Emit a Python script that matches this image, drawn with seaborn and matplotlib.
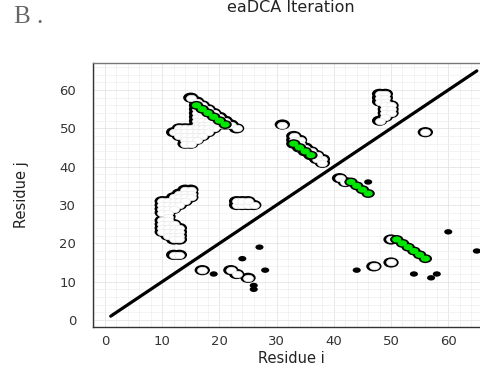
import matplotlib
matplotlib.use("Agg")
import matplotlib.pyplot as plt
import seaborn as sns
from matplotlib.path import Path
from matplotlib.markers import MarkerStyle
from matplotlib.transforms import Affine2D
from matplotlib.ticker import MultipleLocator

# ---------------- data ----------------
title = "eaDCA Iteration"
panel_label = "B ."
x_label = "Residue i"
y_label = "Residue j"
tick_values = [0, 10, 20, 30, 40, 50, 60]

# contact map (white, outlined markers)
contact_i = [
    15, 16, 17, 18, 19, 20, 21, 22, 23,
    16, 17, 18, 19, 20, 21,
    16, 16, 16, 17, 16, 19, 20, 19, 17, 17, 18, 16, 17, 18,
    13, 14, 15, 16, 17, 18,
    12, 13, 14, 15, 16, 17, 18,
    13, 14, 15, 16, 17,
    14, 15, 16,
    14, 15,
    14, 15,
    13, 14, 15,
    12, 13, 14, 15,
    10, 11, 12, 13, 14,
    10, 11, 12, 13,
    10, 11, 12,
    10, 11,
    11,
    10, 11,
    10, 11, 12,
    10, 11, 12, 13,
    10, 11, 12, 13,
    11, 12, 13,
    12, 13,
    12, 13,
    23, 23, 24, 24, 25, 25, 26,
    31,
    33, 34,
    33, 34, 35, 36, 37, 38,
    33, 34, 35, 36, 37, 38,
    48, 49, 48, 49, 48, 49, 49, 50, 49, 50, 49, 50, 49, 48,
    56,
    17, 22, 23, 25, 47, 50,
    41, 42, 50,
]
contact_j = [
    58, 57, 56, 55, 54, 53, 52, 51, 50,
    56, 55, 54, 53, 52, 51,
    55, 54, 53, 54, 52, 51, 51, 50, 53, 52, 52, 51, 51, 51,
    50, 50, 50, 50, 50, 50,
    49, 49, 49, 49, 49, 49, 49,
    48, 48, 48, 48, 48,
    47, 47, 47,
    46, 46,
    34, 34,
    33, 33, 33,
    32, 32, 32, 32,
    31, 31, 31, 31, 31,
    30, 30, 30, 30,
    29, 29, 29,
    28, 28,
    27,
    26, 26,
    25, 25, 25,
    24, 24, 24, 24,
    23, 23, 23, 23,
    22, 22, 22,
    21, 21,
    17, 17,
    30, 31, 30, 31, 30, 31, 30,
    51,
    48, 47,
    47, 46, 45, 44, 43, 42,
    46, 45, 44, 43, 42, 41,
    59, 59, 58, 58, 57, 57, 56, 56, 55, 55, 54, 54, 53, 52,
    49,
    13, 13, 12, 11, 14, 15,
    37, 36, 21,
]

# correctly predicted contacts (green)
tp_i = [16, 17, 18, 19, 20, 21, 33, 34, 35, 36,
        56, 55, 54, 53, 52, 51, 46, 45, 44, 43]
tp_j = [56, 55, 54, 53, 52, 51, 46, 45, 44, 43,
        16, 17, 18, 19, 20, 21, 33, 34, 35, 36]

# wrongly predicted contacts (black)
fp_i = [46, 27, 24, 28, 19, 26, 26, 44, 60, 65, 54, 57, 58]
fp_j = [36, 19, 16, 13, 12, 9, 8, 13, 23, 18, 12, 11, 12]

# diagonal
diag_x = [1, 65]
diag_y = [1, 65]

# ---------------- style ----------------
sns.set_style("white")
plt.rcParams["font.family"] = ["DejaVu Sans"]

W, H = 481, 371
fig = plt.figure(figsize=(W / 100, H / 100), dpi=100)
ax = fig.add_axes([93 / W, 1 - 327 / H, (490 - 93) / W, (327 - 63) / H])

ell = MarkerStyle(Path.unit_circle().transformed(Affine2D().scale(1.5, 1.0)))

# diagonal line
sns.lineplot(x=diag_x, y=diag_y, color="black", linewidth=2.3, ax=ax,
             solid_capstyle="round", zorder=2)

# contacts: black outline layer then white fill layer
sns.scatterplot(x=contact_i, y=contact_j, marker=ell, s=122, color="black",
                edgecolor="none", linewidth=0, ax=ax, zorder=3)
sns.scatterplot(x=contact_i, y=contact_j, marker=ell, s=50, color="white",
                edgecolor="#e9e9e9", linewidth=0.5, ax=ax, zorder=4)

# true positives
sns.scatterplot(x=tp_i, y=tp_j, marker=ell, s=92, color="black",
                edgecolor="none", linewidth=0, ax=ax, zorder=5)
sns.scatterplot(x=tp_i, y=tp_j, marker=ell, s=44, color="#00e600",
                edgecolor="none", linewidth=0, ax=ax, zorder=6)

# false positives
sns.scatterplot(x=fp_i, y=fp_j, marker=ell, s=34, color="black",
                edgecolor="none", linewidth=0, ax=ax, zorder=7)

ax.set_xlim(-2.1, 67.3)
ax.set_ylim(-1.83, 67.05)
ax.set_xticks(tick_values)
ax.set_yticks(tick_values)
ax.xaxis.set_minor_locator(MultipleLocator(2))
ax.yaxis.set_minor_locator(MultipleLocator(2))
ax.grid(True, which="major", color="#e4e4e4", linewidth=0.6)
ax.grid(True, which="minor", color="#efefef", linewidth=0.5)
ax.set_axisbelow(True)

ax.tick_params(axis="both", which="major", direction="in", length=4, width=0.9,
               color="#333333", labelsize=9.5, labelcolor="#333333")
ax.tick_params(axis="x", which="major", pad=6)
ax.tick_params(axis="y", which="major", pad=12)
ax.tick_params(axis="both", which="minor", direction="in", length=2, width=0.7,
               color="#333333")
ax.tick_params(top=False, right=False, which="both")

for side in ["left", "bottom"]:
    ax.spines[side].set_color("#333333")
    ax.spines[side].set_linewidth(1.0)
ax.spines["top"].set_color("#777777")
ax.spines["top"].set_linewidth(1.0)
ax.spines["right"].set_visible(False)

ax.set_xlabel(x_label, fontsize=10.5, color="#222222")
ax.set_ylabel(y_label, fontsize=10.5, color="#222222")
ax.xaxis.set_label_coords(0.5, -(351 - 327) / (327 - 63))
ax.yaxis.set_label_coords(-(93 - 29) / (490 - 93), (327 - 195) / (327 - 63))

fig.text(291 / W, 1 - 8 / H, title, ha="center", va="center", fontsize=11.5,
         color="#222222")
fig.text(14 / W, 1 - 17 / H, panel_label, ha="left", va="center",
         fontsize=18, color="#666666", family=["Liberation Serif", "DejaVu Serif"])

fig.savefig("out.png", dpi=100)
